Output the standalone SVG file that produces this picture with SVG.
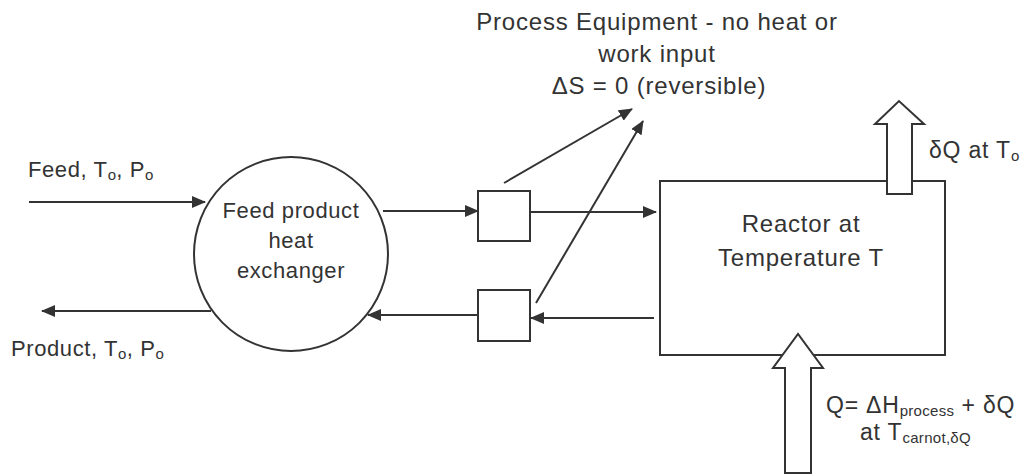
<svg xmlns="http://www.w3.org/2000/svg" width="1028" height="474" viewBox="0 0 1028 474">
<style>
.ln{stroke:#333;stroke-width:2;fill:none}
.shape{stroke:#333;stroke-width:2;fill:#fff}
.t{font-family:"Liberation Sans",Arial,sans-serif;font-size:22px;fill:#333;letter-spacing:0.6px}
.big{font-size:24px;letter-spacing:0.8px}
.q{font-size:23px;letter-spacing:0.8px}
.c{text-anchor:middle}
.sub{font-size:15px;letter-spacing:0.3px}
</style>
<defs>
<marker id="ah" markerUnits="userSpaceOnUse" markerWidth="14" markerHeight="12" refX="13" refY="6" orient="auto">
<path d="M0,0 L14,6 L0,12 Z" fill="#333"/>
</marker>
</defs>
<rect width="1028" height="474" fill="#fff"/>
<g id="hx">
<circle class="shape" cx="291" cy="254" r="97"/>
<text class="t c" x="291" y="218">Feed product</text>
<text class="t c" x="291" y="248">heat</text>
<text class="t c" x="291" y="278">exchanger</text>
</g>
<g id="eq1"><rect class="shape" x="478" y="191" width="52" height="50"/></g>
<g id="eq2"><rect class="shape" x="478" y="290" width="52" height="51"/></g>
<g id="reactor">
<rect class="shape" x="660" y="181" width="285" height="174"/>
<text class="t big c" x="801" y="232">Reactor at</text>
<text class="t big c" x="801" y="266">Temperature T</text>
</g>
<g id="heat-out">
<path class="shape" d="M887,194 L887,124 L875,124 L899,101 L924,124 L912,124 L912,194 Z"/>
<text class="t q" x="929" y="158">δQ at T<tspan class="sub" dy="3">o</tspan></text>
</g>
<g id="heat-in">
<path class="shape" d="M785,473 L785,368 L773,368 L798,334 L823,368 L811,368 L811,473 Z"/>
<text class="t q" x="826" y="413">Q= ΔH<tspan class="sub" dy="3">process</tspan><tspan dy="-3"> + δQ</tspan></text>
<text class="t q" x="860" y="440">at T<tspan class="sub" dy="3">carnot,δQ</tspan></text>
</g>
<g id="labels">
<text class="t" x="28" y="177">Feed, T<tspan class="sub" dy="3">o</tspan><tspan dy="-3">, P</tspan><tspan class="sub" dy="3">o</tspan></text>
<text class="t" x="11" y="356">Product, T<tspan class="sub" dy="3">o</tspan><tspan dy="-3">, P</tspan><tspan class="sub" dy="3">o</tspan></text>
<text class="t big c" x="657" y="30">Process Equipment - no heat or</text>
<text class="t big c" x="657" y="62">work input</text>
<text class="t big c" x="659" y="94">ΔS = 0 (reversible)</text>
</g>
<g id="connectors">
<line class="ln" x1="29" y1="202" x2="205" y2="202" marker-end="url(#ah)"/>
<line class="ln" x1="211" y1="311" x2="42" y2="311" marker-end="url(#ah)"/>
<line class="ln" x1="383" y1="211" x2="478" y2="211" marker-end="url(#ah)"/>
<line class="ln" x1="530" y1="212" x2="656" y2="212" marker-end="url(#ah)"/>
<line class="ln" x1="654" y1="318" x2="531" y2="318" marker-end="url(#ah)"/>
<line class="ln" x1="478" y1="315" x2="368" y2="315" marker-end="url(#ah)"/>
<line class="ln" x1="504" y1="183" x2="632" y2="109" marker-end="url(#ah)"/>
<line class="ln" x1="536" y1="303" x2="643" y2="121" marker-end="url(#ah)"/>
</g>
</svg>
